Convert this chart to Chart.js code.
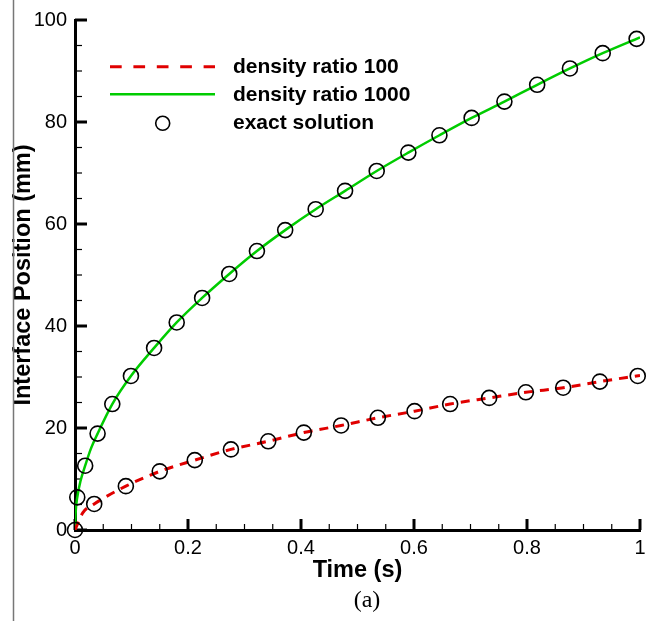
<!DOCTYPE html>
<html lang="en">
<head>
<meta charset="UTF-8" />
<title>Interface Position vs Time</title>
<style>
  html, body { margin: 0; padding: 0; background: #fff; }
  #wrap { width: 660px; height: 621px; }
</style>
</head>
<body>
<div id="wrap"><canvas id="chart" width="660" height="621"></canvas></div>
<script src="https://cdn.jsdelivr.net/npm/chart.js@4.4.1/dist/chart.umd.min.js"></script>
<script>
// tick labels
const xTicks = [0, 0.2, 0.4, 0.6, 0.8, 1];
const yTicks = [0, 20, 40, 60, 80, 100];

// exact solution circles, density ratio 1000
const exact1000Time = [0, 0.004, 0.018, 0.040, 0.066, 0.099, 0.140, 0.180, 0.225, 0.273, 0.322, 0.372,
  0.426, 0.478, 0.534, 0.590, 0.645, 0.702, 0.760, 0.818, 0.876, 0.934, 0.994];
const exact1000Pos = [0, 6.4, 12.6, 18.9, 24.7, 30.2, 35.7, 40.7, 45.5, 50.2, 54.7, 58.8,
  62.9, 66.5, 70.4, 74.0, 77.4, 80.8, 84.0, 87.3, 90.5, 93.5, 96.3];

// exact solution circles, density ratio 100
const exact100Time = [0.034, 0.090, 0.150, 0.212, 0.276, 0.342, 0.405, 0.471, 0.536, 0.601,
  0.664, 0.733, 0.798, 0.864, 0.929, 0.996];
const exact100Pos = [5.1, 8.6, 11.5, 13.7, 15.8, 17.4, 19.1, 20.5, 22.0, 23.3,
  24.7, 25.9, 27.0, 27.9, 29.1, 30.2];

// simulated curves
const ratio1000Time = [0, 0.001, 0.004, 0.010, 0.018, 0.028, 0.040, 0.066, 0.099, 0.140, 0.180, 0.225,
  0.273, 0.322, 0.372, 0.426, 0.478, 0.534, 0.590, 0.645, 0.702, 0.760, 0.818, 0.876, 0.934, 1.0];
const ratio1000Pos = [0, 3.2, 6.4, 9.7, 12.6, 15.9, 18.9, 24.7, 30.2, 35.7, 40.7, 45.5,
  50.2, 54.7, 58.8, 62.9, 66.5, 70.4, 74.0, 77.4, 80.8, 84.0, 87.3, 90.5, 93.5, 96.6];

const ratio100Time = [0, 0.014, 0.034, 0.090, 0.150, 0.212, 0.276, 0.342, 0.405, 0.471, 0.536, 0.601,
  0.664, 0.733, 0.798, 0.864, 0.929, 1.0];
const ratio100Pos = [0, 3.4, 5.1, 8.6, 11.5, 13.7, 15.8, 17.4, 19.1, 20.5, 22.0, 23.3,
  24.7, 25.9, 27.0, 27.9, 29.1, 30.3];

const RED = '#e00000';
const GREEN = '#00cc00';
const SANS = '"Liberation Sans", Arial, sans-serif';

function pts(xs, ys) {
  return xs.map((x, i) => ({ x: x, y: ys[i] }));
}

const exactPoints = pts(exact1000Time, exact1000Pos).concat(pts(exact100Time, exact100Pos));

// inward ticks (major + minor), drawn from the scales
const axisTicks = {
  id: 'axisTicks',
  beforeDatasetsDraw(chart) {
    const { ctx, chartArea: a, scales: { x, y } } = chart;
    ctx.save();
    ctx.strokeStyle = '#000';
    for (let i = 0; i <= 20; i++) {
      const major = i % 4 === 0;
      ctx.lineWidth = major ? 3 : 1.2;
      const len = major ? 11 : 6;
      const px = x.getPixelForValue(i * 0.05);
      ctx.beginPath();
      ctx.moveTo(px, a.bottom);
      ctx.lineTo(px, a.bottom - len);
      ctx.stroke();
      const py = y.getPixelForValue(i * 5);
      ctx.beginPath();
      ctx.moveTo(a.left, py);
      ctx.lineTo(a.left + len + 1, py);
      ctx.stroke();
    }
    ctx.restore();
  },
  afterDraw(chart) {
    const { ctx } = chart;
    ctx.save();
    // figure frame line on the left
    ctx.strokeStyle = '#777';
    ctx.lineWidth = 1.5;
    ctx.beginPath();
    ctx.moveTo(13.5, 0);
    ctx.lineTo(13.5, 621);
    ctx.stroke();

    // legend
    ctx.lineWidth = 3;
    ctx.strokeStyle = RED;
    ctx.setLineDash([11.7, 11.7]);
    ctx.beginPath();
    ctx.moveTo(110, 66.7);
    ctx.lineTo(215, 66.7);
    ctx.stroke();
    ctx.setLineDash([]);
    ctx.lineWidth = 2.5;
    ctx.strokeStyle = GREEN;
    ctx.beginPath();
    ctx.moveTo(110, 94.3);
    ctx.lineTo(215, 94.3);
    ctx.stroke();
    ctx.lineWidth = 1.6;
    ctx.strokeStyle = '#000';
    ctx.beginPath();
    ctx.arc(162.7, 123.3, 7, 0, Math.PI * 2);
    ctx.stroke();

    ctx.fillStyle = '#000';
    ctx.font = 'bold 21px ' + SANS;
    ctx.textBaseline = 'middle';
    ctx.textAlign = 'left';
    ctx.fillText('density ratio 100', 233, 67.5);
    ctx.fillText('density ratio 1000', 233, 95);
    ctx.fillText('exact solution', 233, 123);

    // panel label
    ctx.font = '24px "Liberation Serif", "Times New Roman", serif';
    ctx.textAlign = 'center';
    ctx.fillText('(a)', 367, 601);
    ctx.restore();
  }
};

new Chart(document.getElementById('chart'), {
  type: 'scatter',
  data: {
    datasets: [
      {
        label: 'exact solution',
        data: exactPoints,
        showLine: false,
        pointRadius: 7.5,
        pointHoverRadius: 7.5,
        pointBorderWidth: 1.6,
        pointBorderColor: '#000',
        pointBackgroundColor: 'rgba(0,0,0,0)',
        clip: false,
        order: 0
      },
      {
        label: 'density ratio 100',
        data: pts(ratio100Time, ratio100Pos),
        showLine: true,
        borderColor: RED,
        borderWidth: 3,
        borderDash: [9, 7],
        pointRadius: 0,
        cubicInterpolationMode: 'monotone',
        order: 1
      },
      {
        label: 'density ratio 1000',
        data: pts(ratio1000Time, ratio1000Pos),
        showLine: true,
        borderColor: GREEN,
        borderWidth: 2.5,
        pointRadius: 0,
        cubicInterpolationMode: 'monotone',
        order: 1
      }
    ]
  },
  options: {
    responsive: false,
    animation: false,
    devicePixelRatio: 1,
    layout: { padding: { top: 16, right: 20, left: 0, bottom: 0 } },
    plugins: { legend: { display: false }, tooltip: { enabled: false } },
    scales: {
      x: {
        type: 'linear',
        min: 0,
        max: 1,
        afterFit(s) { s.height = 91; },
        afterBuildTicks(s) { s.ticks = xTicks.map(v => ({ value: v })); },
        grid: { drawOnChartArea: false, drawTicks: false },
        border: { display: true, width: 3, color: '#000' },
        ticks: {
          color: '#000',
          padding: 6,
          maxRotation: 0,
          font: { family: SANS, size: 20 },
          callback: v => String(v)
        },
        title: {
          display: true,
          text: 'Time (s)',
          color: '#000',
          font: { family: SANS, size: 23.5, weight: 'bold' },
          padding: { top: 36, bottom: 36 }
        }
      },
      y: {
        type: 'linear',
        min: 0,
        max: 100,
        afterFit(s) { s.width = 75; },
        afterBuildTicks(s) { s.ticks = yTicks.map(v => ({ value: v })); },
        grid: { drawOnChartArea: false, drawTicks: false },
        border: { display: true, width: 3, color: '#000' },
        ticks: {
          color: '#000',
          padding: 8,
          font: { family: SANS, size: 20 },
          callback: v => String(v)
        },
        title: {
          display: true,
          text: 'Interface Position (mm)',
          color: '#000',
          font: { family: SANS, size: 23.5, weight: 'bold' },
          padding: { top: 9, bottom: 9 }
        }
      }
    }
  },
  plugins: [axisTicks]
});
</script>
</body>
</html>
